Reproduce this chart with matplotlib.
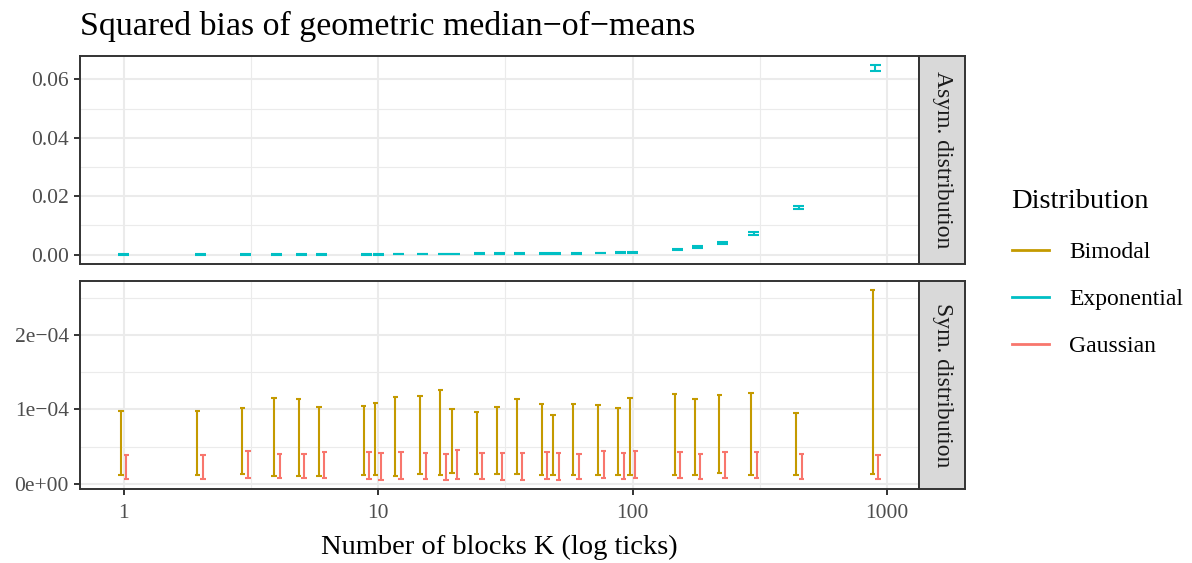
import numpy as np
import matplotlib
matplotlib.use("Agg")
import matplotlib.pyplot as plt
from matplotlib.lines import Line2D

plt.rcParams['font.family'] = ['Liberation Serif', 'DejaVu Serif']

# numero de bloques K (divisores de 900)
K = [1, 2, 3, 4, 5, 6, 9, 10, 12, 15, 18, 20, 25, 30, 36, 45, 50, 60, 75, 90,
     100, 150, 180, 225, 300, 450, 900]

# panel asimetrico: distribucion exponencial (sesgo al cuadrado, min y max)
expo_lo = [0.00000, 0.00000, 0.00000, 0.00000, 0.00000, 0.00000, 0.00001, 0.00001,
           0.00002, 0.00003, 0.00004, 0.00005, 0.00006, 0.00008, 0.00010, 0.00014,
           0.00017, 0.00024, 0.00038, 0.00056, 0.00069, 0.00156, 0.00228, 0.00365,
           0.00683, 0.01566, 0.06285]
expo_hi = [0.00030, 0.00030, 0.00030, 0.00030, 0.00030, 0.00030, 0.00031, 0.00031,
           0.00032, 0.00033, 0.00034, 0.00035, 0.00036, 0.00038, 0.00040, 0.00044,
           0.00047, 0.00054, 0.00068, 0.00086, 0.00099, 0.00206, 0.00278, 0.00435,
           0.00763, 0.01678, 0.06475]

# panel simetrico: bimodal y gaussiana (en unidades de 1e-4)
bimo_lo = [0.115, 0.115, 0.133, 0.110, 0.106, 0.106, 0.124, 0.115, 0.106, 0.128,
           0.124, 0.142, 0.128, 0.128, 0.128, 0.120, 0.115, 0.115, 0.120, 0.124,
           0.124, 0.124, 0.124, 0.150, 0.120, 0.120, 0.128]
bimo_hi = [0.973, 0.973, 1.018, 1.160, 1.146, 1.032, 1.053, 1.085, 1.165, 1.178,
           1.262, 1.005, 0.969, 1.027, 1.138, 1.071, 0.925, 1.067, 1.058, 1.018,
           1.151, 1.204, 1.142, 1.191, 1.218, 0.952, 2.599]
gaus_lo = [0.066, 0.066, 0.075, 0.075, 0.075, 0.079, 0.062, 0.058, 0.071, 0.071,
           0.058, 0.071, 0.066, 0.058, 0.058, 0.062, 0.058, 0.062, 0.075, 0.062,
           0.075, 0.075, 0.062, 0.075, 0.079, 0.066, 0.066]
gaus_hi = [0.390, 0.390, 0.438, 0.407, 0.407, 0.425, 0.425, 0.412, 0.429, 0.420,
           0.403, 0.452, 0.412, 0.410, 0.412, 0.425, 0.420, 0.403, 0.443, 0.420,
           0.447, 0.434, 0.403, 0.425, 0.434, 0.403, 0.385]

dist_names = ["Bimodal", "Exponential", "Gaussian"]
colores = ["#C49A00", "#00BFC4", "#F8766D"]
paneles = ["Asym. distribution", "Sym. distribution"]

x_ticks = [1, 10, 100, 1000]
x_labels = ["1", "10", "100", "1000"]
y_ticks_top = [0.00, 0.02, 0.04, 0.06]
y_labels_top = ["0.00", "0.02", "0.04", "0.06"]
y_ticks_bot = [0.0, 1e-4, 2e-4]
y_labels_bot = ["0e+00", "1e\u221204", "2e\u221204"]

K = np.array(K, dtype=float)
escala = 1e-4
lw = 1.5

W, H = 1192, 563
fig = plt.figure(figsize=(W / 100, H / 100), dpi=100)

def rect(x0, y0, x1, y1):
    return [x0 / W, 1 - y1 / H, (x1 - x0) / W, (y1 - y0) / H]

ax_top = fig.add_axes(rect(80, 56, 919, 264))
ax_bot = fig.add_axes(rect(80, 281, 919, 489))

def barras(ax, xc, lo, hi, color, media):
    # una barra de error: linea vertical y dos topes horizontales
    ax.vlines(xc, lo, hi, color=color, lw=lw, capstyle="butt", zorder=3)
    x_izq = xc * 10 ** (-media)
    x_der = xc * 10 ** media
    ax.hlines(lo, x_izq, x_der, color=color, lw=lw, zorder=3)
    ax.hlines(hi, x_izq, x_der, color=color, lw=lw, zorder=3)

# el exponencial ocupa todo el ancho; en el otro panel se reparten dos grupos
ancho = 0.0216
barras(ax_top, K, expo_lo, expo_hi, colores[1], ancho)
desplaz = 0.0108
barras(ax_bot, K * 10 ** (-desplaz), np.array(bimo_lo) * escala,
       np.array(bimo_hi) * escala, colores[0], ancho / 2)
barras(ax_bot, K * 10 ** desplaz, np.array(gaus_lo) * escala,
       np.array(gaus_hi) * escala, colores[2], ancho / 2)

# limites con 5% de expansion como en ggplot
lx0 = np.log10(K.min()) - ancho
lx1 = np.log10(K.max()) + ancho
dx = 0.05 * (lx1 - lx0)
xlim = (10 ** (lx0 - dx), 10 ** (lx1 + dx))

def ylims(lo, hi):
    a, b = min(lo), max(hi)
    d = 0.05 * (b - a)
    return a - d, b + d

for ax in (ax_top, ax_bot):
    ax.set_xscale("log")
    ax.set_xlim(xlim)
    ax.set_xticks(x_ticks)
    ax.set_xticks([10 ** 0.5, 10 ** 1.5, 10 ** 2.5], minor=True)
    ax.grid(True, which="major", color="#EBEBEB", lw=1.5, zorder=0)
    ax.grid(True, which="minor", color="#EBEBEB", lw=0.8, zorder=0)
    ax.set_axisbelow(True)
    for s in ax.spines.values():
        s.set_color("#333333")
        s.set_linewidth(1.4)
    ax.tick_params(which="major", length=4, width=1.4, color="#333333",
                   labelsize=15.5, labelcolor="#4D4D4D", pad=4)
    ax.tick_params(which="minor", length=0)

ax_top.set_ylim(ylims(expo_lo, expo_hi))
ax_top.set_yticks(y_ticks_top)
ax_top.set_yticklabels(y_labels_top)
ax_top.set_yticks([0.01, 0.03, 0.05], minor=True)
ax_top.set_xticklabels([])
ax_top.tick_params(axis="x", which="major", length=0)

lo_b = np.concatenate([bimo_lo, gaus_lo]) * escala
hi_b = np.concatenate([bimo_hi, gaus_hi]) * escala
ax_bot.set_ylim(ylims(lo_b, hi_b))
ax_bot.set_yticks(y_ticks_bot)
ax_bot.set_yticklabels(y_labels_bot)
ax_bot.set_yticks([0.5e-4, 1.5e-4, 2.5e-4], minor=True)
ax_bot.set_xticklabels(x_labels)
ax_bot.tick_params(axis="x", pad=7)
ax_bot.set_xlabel("Number of blocks K (log ticks)", fontsize=20.5, labelpad=8)

# etiquetas de faceta a la derecha
for ax, nombre in zip((ax_top, ax_bot), paneles):
    pos = ax.get_position()
    tira = fig.add_axes([pos.x1, pos.y0, 46 / W, pos.height])
    tira.set_facecolor("#D9D9D9")
    tira.set_xticks([])
    tira.set_yticks([])
    for s in tira.spines.values():
        s.set_color("#333333")
        s.set_linewidth(1.4)
    tira.text(0.5, 0.5, nombre, rotation=-90, ha="center", va="center",
              fontsize=17, color="#1A1A1A", transform=tira.transAxes)

fig.text(80 / W, 1 - 26 / H, "Squared bias of geometric median\u2212of\u2212means",
         fontsize=24.4, ha="left", va="center")

handles = [Line2D([], [], color=c, lw=2) for c in colores]
leg = fig.legend(handles, dist_names, title="Distribution", loc="upper left",
                 bbox_to_anchor=(995 / W, 1 - 172 / H), frameon=False,
                 fontsize=17, title_fontsize=20.5, handlelength=1.6,
                 handletextpad=0.85, labelspacing=1.08, alignment="left",
                 borderpad=0.2)
leg._legend_box.sep = 20

fig.savefig("out.png", dpi=100)
